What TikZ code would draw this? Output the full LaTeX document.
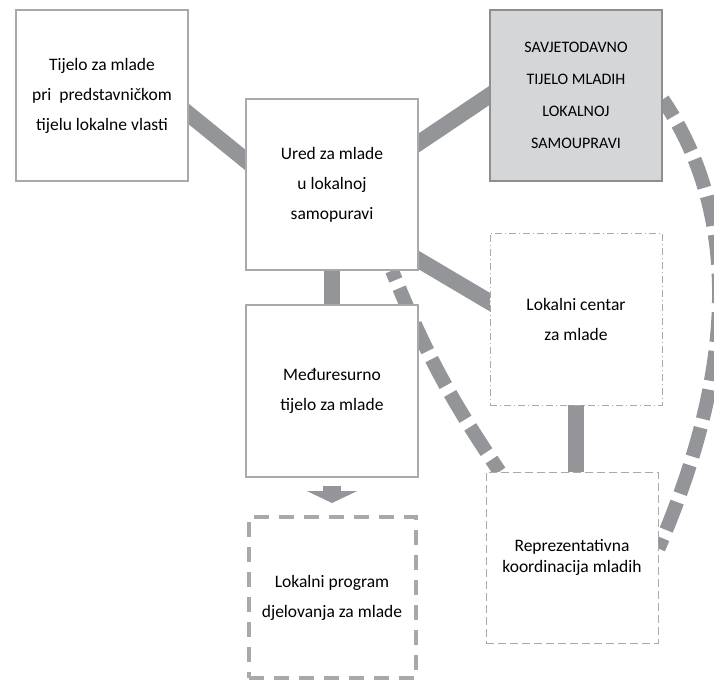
\documentclass[tikz,border=0pt]{standalone}
\usepackage{fontspec}
\setmainfont{Carlito}
\usetikzlibrary{backgrounds,arrows.meta}
\definecolor{conn}{HTML}{939598}
\definecolor{bord}{HTML}{A7A9AC}
\definecolor{cfill}{HTML}{D5D6D8}
\definecolor{cbord}{HTML}{8D8E90}
\tikzset{
  box/.style={rectangle, draw=bord, line width=1.3pt, fill=white, minimum width=172pt, minimum height=171pt, align=center, inner sep=0pt, font=\fontsize{17.5}{30}\selectfont},
  grey box/.style={box, draw=cbord, fill=cfill, font=\fontsize{16}{32}\selectfont},
  dashdot box/.style={box, line width=0.8pt, dash pattern=on 7pt off 3pt on 1pt off 3pt},
  dash box/.style={box, line width=0.9pt, dash pattern=on 8pt off 4pt, font=\fontsize{17.5}{20.5}\selectfont},
  thick dash box/.style={box, line width=4pt, dash pattern=on 15pt off 10pt},
  link/.style={draw=conn, line width=16pt},
  dlink/.style={draw=conn, line width=14pt, dash pattern=on 30pt off 9pt},
}
\begin{document}
\begin{tikzpicture}[x=1pt,y=-1pt]
\useasboundingbox (0,0) rectangle (714,682);
\node[box] (A) at (102,95.5) {Tijelo za mlade\\pri\ \ predstavničkom\\tijelu lokalne vlasti};
\node[box] (B) at (332,184.5) {Ured za mlade\\u lokalnoj\\samopuravi};
\node[grey box] (C) at (576,95.5) {SAVJETODAVNO\\TIJELO MLADIH\\LOKALNOJ\\SAMOUPRAVI};
\node[dashdot box, minimum height=172pt] (D) at (576,319) {Lokalni centar\\za mlade};
\node[box, minimum height=172pt] (E) at (332,391) {Međuresurno\\tijelo za mlade};
\node[thick dash box, minimum width=167pt, minimum height=161pt] (F) at (332,597.5) {Lokalni program\\djelovanja za mlade};
\node[dash box] (G) at (572,557.5) {Reprezentativna\\koordinacija mladih};
\begin{scope}[on background layer]
  \draw[link, shorten <=-12pt, shorten >=-12pt] ([yshift=-18.5pt]A.east) -- ([yshift=24.5pt]B.west);
  \draw[link, shorten <=-12pt, shorten >=-12pt] ([yshift=41.5pt]B.east) -- (C.west);
  \draw[link, shorten <=-12pt, shorten >=-12pt] ([yshift=-75.5pt]B.east) -- ([yshift=17pt]D.west);
  \draw[link] (B.south) -- (E.north);
  \draw[link] (D.south) -- (D.south |- G.north);
  \draw[dlink, dash phase=20pt] ([xshift=60pt]B.south) to[bend right=6] ([xshift=14pt]G.north west);
  \draw[dlink, dash phase=10pt] ([yshift=-4pt]C.east) .. controls +(76,112) and +(80,-185) .. ([yshift=9pt]G.east);
  \draw[draw=conn, line width=18pt, -{Triangle[width=50pt 0 0, length=12pt 0 0]}, shorten <=8pt, shorten >=12pt] (E.south) -- (F.north);
\end{scope}
\end{tikzpicture}
\end{document}
